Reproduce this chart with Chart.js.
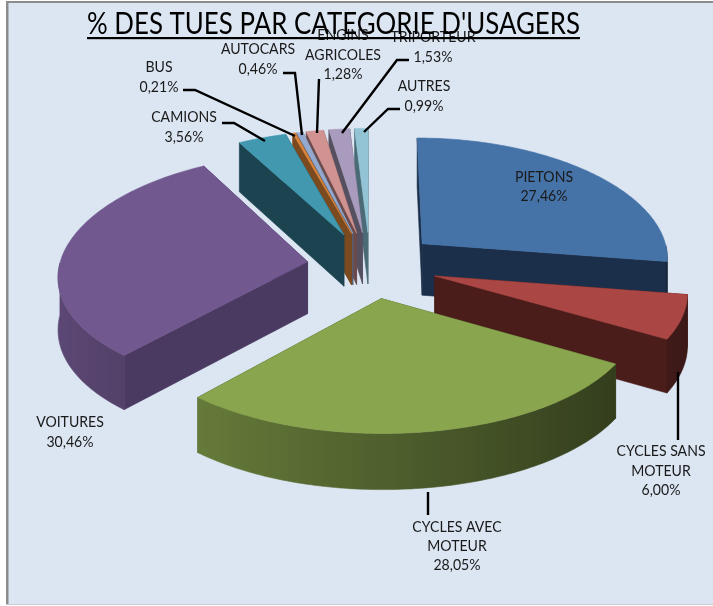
<!DOCTYPE html>
<html><head><meta charset="utf-8">
<style>html,body{margin:0;padding:0;background:#fff}canvas{display:block}</style>
<script src="https://cdn.jsdelivr.net/npm/chart.js@4"></script>
</head><body>
<canvas id="c" width="713" height="606"></canvas>
<script>
const titleText = "% DES TUES PAR CATEGORIE D'USAGERS";
const categories = ['PIETONS','CYCLES SANS MOTEUR','CYCLES AVEC MOTEUR','VOITURES','CAMIONS','BUS','AUTOCARS','ENGINS AGRICOLES','TRIPORTEUR','AUTRES'];
const values = [27.46,6.00,28.05,30.46,3.56,0.21,0.46,1.28,1.53,0.99];
const topColors = ['#4572A7','#AA4643','#89A54E','#71588F','#4198AF','#DB843D','#93A9CF','#D19392','#A99BBD','#92C4D5'];
const wallColors = ['#1B2F4A','#4A1C1A','#3B4720','#4A3A62','#1B4350','#7B4A1F','#55627A','#6A4A4A','#55505F','#4A6A75'];
const explodeOffsets = [70,68,70,63,70,70,70,70,70,70];

// layout: label line breaks and positions [centre x, first-line centre y, line gap]
const labelLines = [['PIETONS'],['CYCLES SANS','MOTEUR'],['CYCLES AVEC','MOTEUR'],['VOITURES'],['CAMIONS'],['BUS'],['AUTOCARS'],['ENGINS','AGRICOLES'],['TRIPORTEUR'],['AUTRES']];
const labelPos = [[544,177,19],[661,451,19.5],[457,527,19],[70,422,19.5],[184,117,20],[159,67,19.5],[258,49,20],[343,35,19.5],[433,37,19.5],[424,86,20]];
const leaders = [null,[[678,372],[678,440]],[[428,492],[428,515]],null,
  [[222,123],[234,123],[265,141]],[[183,90],[195,90],[295,136]],[[283,73],[295,73],[302,135]],
  [[319,79],[317,133]],[[409,60],[397,60],[342,133]],[[400,109],[388,109],[364,132]]];

const PERSP_X = 2300, PERSP_Y = 3000, FLAT = 0.475, DEPTH = 52;

function shade(hex, k){
  const n = parseInt(hex.slice(1),16);
  const c = [(n>>16)&255,(n>>8)&255,n&255].map(v=>Math.round(v*k));
  return 'rgb('+c.join(',')+')';
}

class Pie3D extends Chart.controllers.pie {
  draw(){
    const ctx = this.chart.ctx;
    const arcs = this.getMeta().data;
    const project = (a,X,Y,down)=>{
      const f = PERSP_X/(PERSP_X+Y), g = PERSP_Y/(PERSP_Y+Y);
      return [a.x + X*f, a.y - FLAT*Y*g + (down ? DEPTH*(1+(f-1)*0.5) : 0)];
    };
    const poly = (pts,color)=>{
      ctx.beginPath();
      pts.forEach((p,i)=> i ? ctx.lineTo(p[0],p[1]) : ctx.moveTo(p[0],p[1]));
      ctx.closePath();
      ctx.fillStyle = color; ctx.strokeStyle = color; ctx.lineWidth = 0.6;
      ctx.fill(); ctx.stroke();
    };
    const slices = arcs.map((a,i)=>{
      const mid = (a.startAngle+a.endAngle)/2, off = a.options.offset||0;
      return {a,i,ox:Math.cos(mid)*off,oy:-Math.sin(mid)*off};
    }).sort((p,q)=>q.oy-p.oy);
    ctx.save();
    slices.forEach(({a,i,ox,oy})=>{
      const R = a.outerRadius;
      const world = t=>[ox+Math.cos(t)*R, oy-Math.sin(t)*R];
      const steps = Math.max(2,Math.ceil((a.endAngle-a.startAngle)/(Math.PI/180)));
      const rim = [];
      for(let s=0;s<=steps;s++) rim.push(a.startAngle+(a.endAngle-a.startAngle)*s/steps);
      const walls = [];
      const radial = t=>{
        const w = world(t);
        walls.push({y:(w[1]+oy)/2,pts:[project(a,ox,oy,false),project(a,w[0],w[1],false),project(a,w[0],w[1],true),project(a,ox,oy,true)],color:wallColors[i]});
      };
      radial(a.startAngle); radial(a.endAngle);
      const front = rim.filter(t=>Math.sin(t)>0);
      if(front.length>1){
        const upper = front.map(t=>{const w=world(t);return project(a,w[0],w[1],false);});
        const lower = front.map(t=>{const w=world(t);return project(a,w[0],w[1],true);});
        const xs = upper.map(p=>p[0]);
        const x0 = Math.min(...xs), x1 = Math.max(...xs);
        const grad = ctx.createLinearGradient(x0,0,x1,0);
        front.forEach((t,k)=>{
          grad.addColorStop((xs[k]-x0)/(x1-x0||1), shade(topColors[i],0.58-0.24*Math.cos(t)));
        });
        const ys = front.map(t=>world(t)[1]);
        walls.push({y:ys.reduce((s,v)=>s+v,0)/ys.length,pts:upper.concat(lower.reverse()),color:grad});
      }
      walls.sort((p,q)=>q.y-p.y).forEach(w=>poly(w.pts,w.color));
      const top=[project(a,ox,oy,false)];
      rim.forEach(t=>{const w=world(t);top.push(project(a,w[0],w[1],false));});
      poly(top,topColors[i]);
    });
    ctx.restore();
  }
}
Pie3D.id='pie3d';
Pie3D.defaults=Chart.controllers.pie.defaults;
Chart.register(Pie3D);

function stretchedText(ctx,text,cx,cy,sx){
  ctx.save();
  ctx.translate(cx,cy);
  ctx.scale(sx,1);
  ctx.fillText(text,0,0);
  ctx.restore();
}

const frame = {
  id:'frame',
  beforeDraw(chart){
    const c = chart.ctx;
    c.save();
    c.fillStyle='#DCE6F2'; c.fillRect(6,1,707,604);
    c.fillStyle='#8C8C8C'; c.fillRect(6,1,707,2); c.fillRect(6,1,2.5,604);
    c.fillStyle='#C8CCD2'; c.fillRect(6,604,707,1);
    c.restore();
  }
};
const annotate = {
  id:'annotate',
  afterDraw(chart){
    const c = chart.ctx;
    c.save();
    c.textAlign='center'; c.textBaseline='middle';
    c.strokeStyle='#000'; c.lineWidth=2.4; c.lineJoin='miter';
    leaders.forEach(l=>{
      if(!l) return;
      c.beginPath();
      l.forEach((p,i)=> i?c.lineTo(p[0],p[1]):c.moveTo(p[0],p[1]));
      c.stroke();
    });
    c.fillStyle='#1a1a1a';
    c.font='16px Lato';
    categories.forEach((_,i)=>{
      const lines = labelLines[i].concat(values[i].toFixed(2).replace('.',',')+'%');
      const [x,y,g]=labelPos[i];
      lines.forEach((t,j)=>stretchedText(c,t,x,y+j*g,0.88));
    });
    c.fillStyle='#000';
    c.font='30px Lato';
    const w=c.measureText(titleText).width;
    stretchedText(c,titleText,333.5,24.5,493/w);
    c.fillRect(87,37,493,2.2);
    c.restore();
  }
};

new Chart(document.getElementById('c'),{
  type:'pie3d',
  data:{labels:categories,datasets:[{data:values,backgroundColor:topColors,offset:explodeOffsets,borderWidth:0}]},
  options:{
    responsive:false,animation:false,
    radius:248,
    layout:{padding:{left:27,right:0,top:0,bottom:76}},
    plugins:{legend:{display:false},tooltip:{enabled:false}},
    events:[]
  },
  plugins:[frame,annotate]
});
</script>
</body></html>
